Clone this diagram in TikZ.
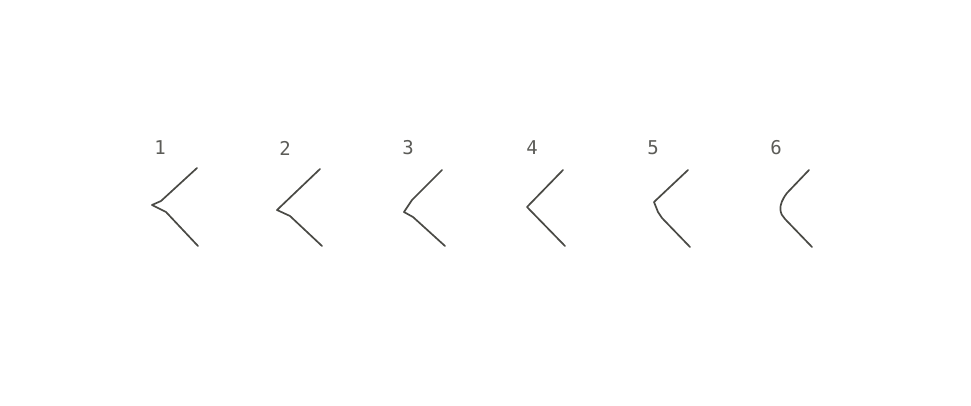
\documentclass[tikz,border=0pt]{standalone}
\usepackage{fontspec}
\setmonofont{DejaVu Sans Mono}
\definecolor{ink}{HTML}{4A4A45}
\tikzset{
  chevron/.style={draw=ink,line width=1.7pt,line join=round,line cap=round},
  numlabel/.style={text=ink!90,font=\ttfamily\fontsize{19}{22}\selectfont,inner sep=0pt}
}
\begin{document}
\begin{tikzpicture}[x=1pt,y=-1pt]
\useasboundingbox (0,0) rectangle (971,405);
\node[numlabel] (n1) at (160,148) {1};
\node[numlabel] (n2) at (285,148) {2};
\node[numlabel] (n3) at (408,148) {3};
\node[numlabel] (n4) at (532,148) {4};
\node[numlabel] (n5) at (653,148) {5};
\node[numlabel] (n6) at (776,148) {6};
\draw[chevron] (197,168) -- (161,201) -- (152,205) -- (166,212) -- (198,246);
\draw[chevron] (320,169) -- (277,210) -- (290,216) -- (322,246);
\draw[chevron] (442,170) -- (412,200) -- (404,212) -- (413,217) -- (445,246);
\draw[chevron] (563,170) -- (527,207) -- (565,246);
\draw[chevron] (688,170) -- (654,202) -- (658,212) -- (662,218) -- (690,247);
\draw[chevron] (809,170) -- (787,193) .. controls (777,206) and (780,214) .. (785,219) -- (812,247);
\end{tikzpicture}
\end{document}
